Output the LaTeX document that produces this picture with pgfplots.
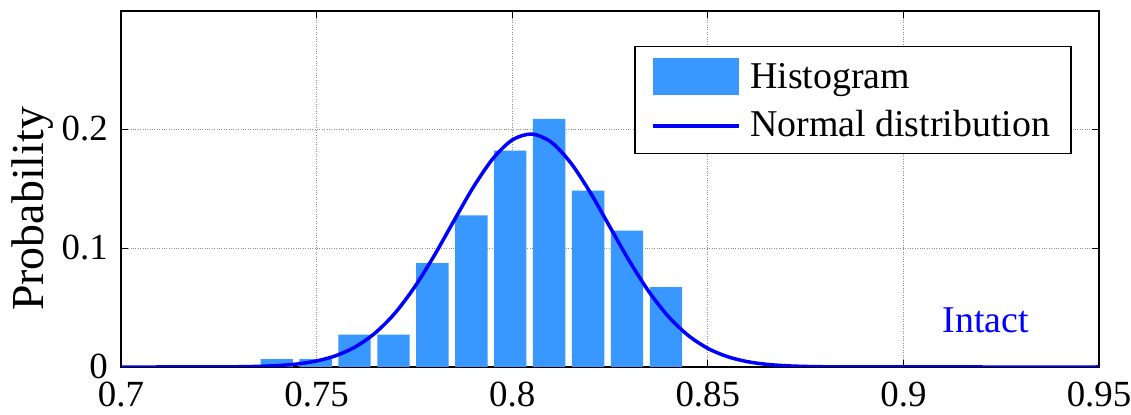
\documentclass[border=0pt]{standalone}
\usepackage{fontspec}
\setmainfont{Liberation Serif}
\usepackage{pgfplots}
\pgfplotsset{compat=1.18}
\definecolor{barblue}{RGB}{56,152,255}
\definecolor{gridgray}{RGB}{140,140,140}
\begin{document}
\begin{tikzpicture}
\begin{axis}[
  at={(121bp,48bp)}, anchor=south west,
  scale only axis, width=978bp, height=356bp,
  xmin=0.7, xmax=0.95, ymin=0, ymax=0.3,
  xtick={0.7,0.75,0.8,0.85,0.9,0.95},
  ytick={0,0.1,0.2},
  /pgf/number format/assume math mode=true,
  tick label style={font=\fontsize{37}{40}\selectfont, inner sep=0pt},
  tick align=inside, major tick length=7bp,
  tick style={black, line width=1bp},
  axis line style={black, line width=1.6bp},
  grid=major,
  major grid style={gridgray, dotted, line width=0.8bp},
  xticklabel style={yshift=-15bp},
  yticklabel style={xshift=-13bp, yshift=1bp},
  ylabel={Probability},
  ylabel style={font=\fontsize{46}{48}\selectfont, at={(axis description cs:-0.090,0.444)}, anchor=center},
  legend style={at={(0.9721,0.9017)}, anchor=north east, draw=black, line width=1.4bp,
    font=\fontsize{38}{40}\selectfont, inner xsep=16bp, inner ysep=6bp, row sep=0bp,
    nodes={inner xsep=0bp, inner ysep=2bp, text height=34bp, text depth=9.4bp},
    /tikz/every odd column/.append style={column sep=10bp},
    cells={anchor=west}},
]
\addplot[ybar, bar width=0.00828, bar shift=0pt, fill=barblue, draw=none,
  legend image code/.code={\fill[barblue] (0bp,-18.8bp) rectangle (86bp,18.8bp);}]
  coordinates {
  (0.7398,0.0067) (0.74975,0.0067) (0.7597,0.0272) (0.76965,0.0272)
  (0.7796,0.0876) (0.78955,0.1278) (0.7995,0.1823) (0.80945,0.2090)
  (0.8194,0.1486) (0.82935,0.1149) (0.8393,0.0674)
  };
\addlegendentry{Histogram}
\addplot[blue, line width=3.5bp, smooth,
  legend image code/.code={\draw[blue, line width=3.5bp] (0bp,-2bp) -- (86bp,-2bp);}]
  coordinates {
  (0.70,0) (0.71,0.000001) (0.72,0.00003) (0.725,0.00008) (0.73,0.00021)
  (0.735,0.00052) (0.74,0.00118) (0.745,0.00253) (0.75,0.00509)
  (0.755,0.00963) (0.76,0.01716) (0.765,0.02875) (0.77,0.04527)
  (0.775,0.06712) (0.78,0.09350) (0.785,0.1226) (0.79,0.1512)
  (0.795,0.1753) (0.80,0.1913) (0.805,0.1963) (0.81,0.1894)
  (0.815,0.1719) (0.82,0.1468) (0.825,0.1179) (0.83,0.08904)
  (0.835,0.06325) (0.84,0.04226) (0.845,0.02657) (0.85,0.01571)
  (0.855,0.00874) (0.86,0.00457) (0.865,0.00225) (0.87,0.00104)
  (0.875,0.00045) (0.88,0.000185) (0.89,0.000026) (0.90,0.000003)
  (0.92,0) (0.95,0)
  };
\addlegendentry{Normal distribution\hspace*{5bp}}
\node[text=blue, font=\fontsize{38}{40}\selectfont, anchor=center] at (axis cs:0.921,0.039) {Intact};
\end{axis}
\pgfresetboundingbox
\useasboundingbox (0,0) rectangle (1131bp,415bp);
\end{tikzpicture}
\end{document}
